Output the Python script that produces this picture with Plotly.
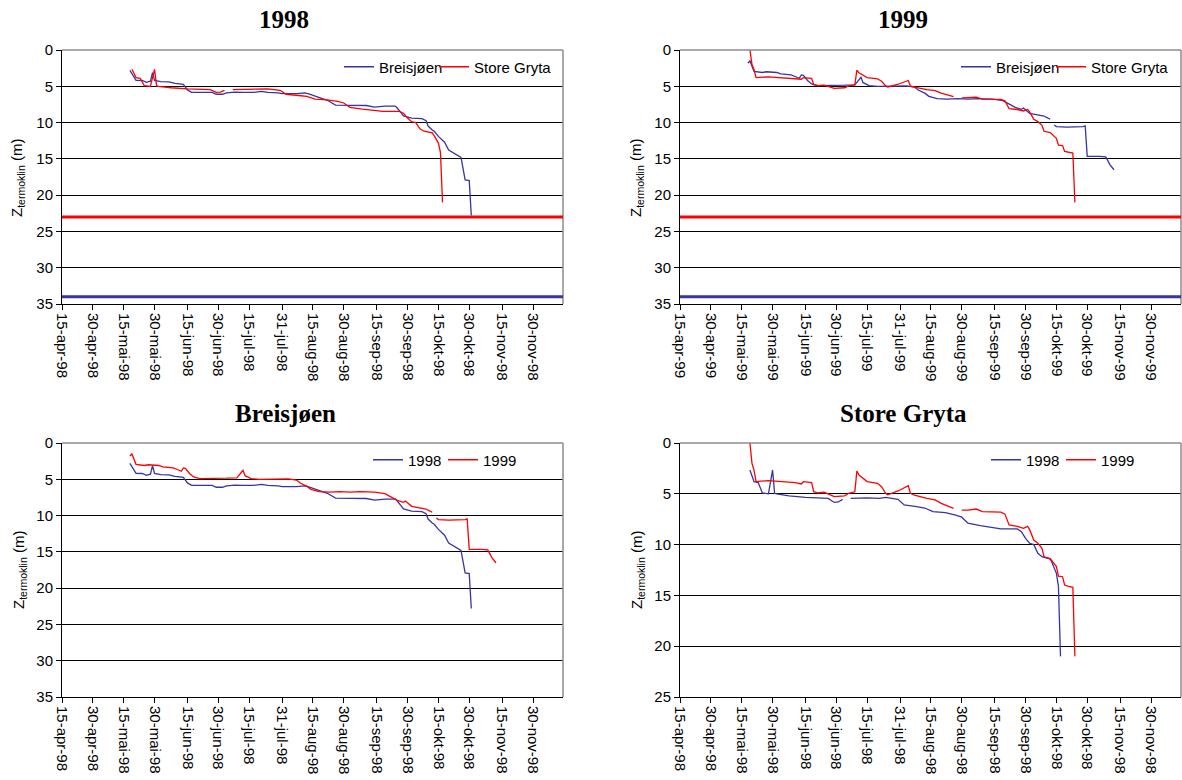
import plotly.graph_objects as go

# ---------------- data (month-day, thermocline depth in m) ----------------
B98_MD = ["05-18", "05-21", "05-24", "05-26", "05-28", "05-29", "05-30", "06-02", "06-06", "06-09",
          "06-13", "06-15", "06-17", "06-22", "06-27", "06-29", "07-02", "07-04", "07-08", "07-12",
          "07-17", "07-21", "07-24", "07-29", "07-31", "08-07", "08-11", "08-13", "08-18", "08-22",
          "08-26", "09-02", "09-10", "09-14", "09-17", "09-19", "09-24", "09-25", "09-27", "09-28",
          "10-02", "10-07", "10-09", "10-10", "10-12", "10-13", "10-15", "10-17", "10-18", "10-20",
          "10-22", "10-24", "10-26", "10-28", "10-30", "10-31"]
B98_Z = [2.8, 4.18, 4.2, 4.45, 4.3, 3.13, 4.2, 4.36, 4.4, 4.6,
         4.73, 5.5, 5.83, 5.83, 5.83, 6.1, 6.1, 5.9, 5.8, 5.85,
         5.85, 5.7, 5.85, 5.9, 6.0, 6.0, 5.9, 6.05, 6.56, 6.93,
         7.6, 7.65, 7.65, 7.88, 7.8, 7.73, 7.73, 8.0, 8.7, 9.07,
         9.4, 9.46, 9.74, 10.48, 11.03, 11.2, 11.9, 12.47, 12.7, 13.8,
         14.1, 14.5, 14.8, 17.9, 18.0, 22.8]

B99_MD = ["05-18", "05-19", "05-21", "05-25", "05-27", "06-01", "06-03", "06-08", "06-10", "06-12",
          "06-13", "06-14", "06-16", "06-18", "06-21", "06-30", "07-04", "07-09", "07-10", "07-12",
          "07-13", "07-16", "07-20", "07-25", "07-29", "08-03", "08-07", "08-09", "08-12", "08-14",
          "08-18", "08-23", "08-28", "09-02", "09-07", "09-10", "09-14", "09-19", "09-22", "09-25",
          "09-28", "09-29", "10-02", "10-05", "10-09", "10-10", "10-12", "10-13", "10-14", "10-15",
          "10-20", "10-23", "10-28", "10-29", "10-30", "11-05", "11-08", "11-10", "11-12"]
B99_Z = [1.8, 1.5, 2.94, 3.1, 3.0, 3.1, 3.3, 3.44, 3.65, 3.9,
         3.44, 3.5, 4.2, 4.67, 4.9, 4.92, 4.85, 4.8, 4.5, 3.76,
         4.5, 4.9, 5.0, 5.0, 4.93, 4.93, 5.1, 5.55, 5.95, 6.38,
         6.7, 6.76, 6.7, 6.76, 6.7, 6.76, 6.76, 6.97, 7.43, 7.9,
         8.17, 8.0, 8.72, 8.86, 9.1, 9.26, 9.54, None, 10.32, 10.55,
         10.64, 10.64, 10.55, 10.45, 14.65, 14.65, 14.74, 15.8, 16.5]

SG98_MD = ["05-19", "05-21", "05-23", "05-25", "05-28", "05-30", "05-31", "06-01", "06-07", "06-15",
           "06-26", "06-27", "06-29", "07-01", "07-03", "07-05", "07-07", "07-15", "07-21", "07-24",
           "07-30", "08-02", "08-08", "08-12", "08-16", "08-22", "08-27", "08-30", "08-31", "09-02",
           "09-08", "09-15", "09-18", "09-26", "09-28", "09-30", "10-02", "10-04", "10-06", "10-08",
           "10-12", "10-13", "10-15", "10-16", "10-17"]
SG98_Z = [2.66, 3.8, 3.9, 4.9, 5.0, 2.66, 4.95, 5.0, 5.2, 5.35,
          5.45, 5.6, 5.85, 5.8, 5.55, None, 5.45, 5.4, 5.45, 5.35,
          5.55, 6.1, 6.27, 6.4, 6.76, 6.86, 7.09, 7.3, 7.5, 7.9,
          8.14, 8.33, 8.46, 8.46, 8.72, 9.38, 9.87, 10.0, 10.86, 11.19,
          11.42, 11.84, 12.83, 14.1, 21.0]

SG99_MD = ["05-19", "05-20", "05-21", "05-22", "05-28", "06-03", "06-10", "06-13", "06-14", "06-18",
           "06-19", "06-21", "06-24", "06-26", "06-29", "07-04", "07-06", "07-09", "07-10", "07-11",
           "07-15", "07-20", "07-22", "07-24", "07-25", "07-30", "08-03", "08-04", "08-05", "08-07",
           "08-13", "08-17", "08-20", "08-26", "08-28", "08-30", "09-02", "09-06", "09-09", "09-18",
           "09-20", "09-22", "09-26", "09-29", "10-01", "10-02", "10-04", "10-06", "10-08", "10-09",
           "10-12", "10-15", "10-16", "10-18", "10-19", "10-21", "10-23", "10-24"]
SG99_Z = [0.0, 2.0, 2.7, 3.8, 3.7, 3.8, 3.9, 4.03, 3.8, 3.9,
          4.79, 4.9, 4.85, 5.0, 5.28, 5.2, 4.95, 4.8, 2.76, 3.15,
          3.8, 3.97, 4.3, 4.95, 5.1, 4.72, 4.3, 4.2, 4.95, 5.12,
          5.45, 5.6, 5.94, 6.43, None, 6.6, 6.6, 6.5, 6.76, 6.8,
          7.0, 8.07, 8.2, 8.4, 8.2, 8.53, 9.55, 9.87, 10.37, 11.2,
          11.38, 12.17, 13.1, 13.16, 13.98, 14.1, 14.2, 21.0]

# reference depths (horizontal lines in the yearly panels)
REF_STORE_GRYTA = 23
REF_BREISJOEN = 34

TICK_MD = ["04-15", "04-30", "05-15", "05-30", "06-15", "06-30", "07-15", "07-31",
           "08-15", "08-30", "09-15", "09-30", "10-15", "10-30", "11-15", "11-30"]
TICK_LABELS = ["15-apr", "30-apr", "15-mai", "30-mai", "15-jun", "30-jun", "15-jul", "31-jul",
               "15-aug", "30-aug", "15-sep", "30-sep", "15-okt", "30-okt", "15-nov", "30-nov"]

TITLES = ["1998", "1999", "Breisjøen", "Store Gryta"]

# ---------------- styling ----------------
W, H = 1182, 780
OFF = 0  # page body margin is removed below, so figure pixels = window pixels
BLUE = "#3535A6"
RED = "#FF0000"
SANS = "Liberation Sans, Arial, sans-serif"
SERIF = "Liberation Serif, Times New Roman, serif"
FS = 15


def px_x(p):
    return (p - OFF) / W


def px_y(p):
    return 1 - (p - OFF) / H


def d(md, year):
    return [f"{year}-{m}" for m in md]


fig = go.Figure()

panels = [
    # (axis suffix, x0, x1, ytop, ybot, tick year, ymax)  -- window pixels
    ("", 62, 563, 50, 304, "98", 35),
    ("2", 680, 1181, 50, 304, "99", 35),
    ("3", 62, 563, 443, 697, "98", 35),
    ("4", 680, 1181, 443, 697, "98", 25),
]

series = [
    [("Breisjøen", d(B98_MD, 1998), B98_Z, BLUE), ("Store Gryta", d(SG98_MD, 1998), SG98_Z, RED)],
    [("Breisjøen", d(B99_MD, 1999), B99_Z, BLUE), ("Store Gryta", d(SG99_MD, 1999), SG99_Z, RED)],
    [("1998", d(B98_MD, 1998), B98_Z, BLUE), ("1999", d(B99_MD, 1998), B99_Z, RED)],
    [("1998", d(SG98_MD, 1998), SG98_Z, BLUE), ("1999", d(SG99_MD, 1998), SG99_Z, RED)],
]
# width reserved for the first legend entry's text (tighter than plotly's default spacing)
first_entry_w = [50, 50, 30, 30]

legend_pos = [(557, 67), (1174, 67), (522, 460), (1140, 460)]
title_pos = [(284, 19), (903, 19), (285, 413), (903, 413)]
ytitle_pos = [(18, 178), (637, 178), (19, 570), (637, 570)]

annotations = []
shapes = []
layout_axes = {}

for i, (suf, x0, x1, yt, yb, yr, ymax) in enumerate(panels):
    xa = "x" + suf
    ya = "y" + suf
    leg = "legend" if i == 0 else f"legend{i + 1}"
    full_year = 1900 + int(yr)
    for j, (name, xs, zs, col) in enumerate(series[i]):
        extra = dict(legendwidth=first_entry_w[i]) if j == 0 else {}
        fig.add_trace(go.Scatter(
            x=xs, y=zs, mode="lines", name=name, xaxis=xa, yaxis=ya,
            line=dict(color=col, width=1.3), connectgaps=False, legend=leg, **extra,
        ))
    layout_axes["xaxis" + suf] = dict(
        domain=[px_x(x0), min(px_x(x1), 1.0)], anchor=ya, type="date", automargin=False,
        range=[f"{full_year}-04-15", f"{full_year}-12-14 14:00"],
        tickvals=d(TICK_MD, full_year), ticktext=[t + "-" + yr for t in TICK_LABELS],
        tickangle=90, ticks="outside", ticklen=5, tickcolor="black",
        showline=True, linecolor="black", linewidth=1, showgrid=False, zeroline=False,
        tickfont=dict(family=SANS, size=FS, color="black"),
    )
    layout_axes["yaxis" + suf] = dict(
        domain=[px_y(yb), px_y(yt)], anchor=xa, range=[ymax, 0], automargin=False,
        tickvals=list(range(0, ymax + 1, 5)), ticks="outside", ticklen=5, tickcolor="black",
        showline=True, linecolor="black", linewidth=1,
        showgrid=True, gridcolor="black", gridwidth=1, zeroline=False,
        tickfont=dict(family=SANS, size=FS, color="black"),
    )
    shapes.append(dict(type="line", xref=xa + " domain", yref=ya + " domain", x0=0, x1=1, y0=1, y1=1,
                       line=dict(color="#8C8C8C", width=1.5), layer="above"))
    shapes.append(dict(type="line", xref=xa + " domain", yref=ya + " domain", x0=1, x1=1, y0=0, y1=1,
                       line=dict(color="#8C8C8C", width=1.5), layer="above"))
    lx, ly = legend_pos[i]
    layout_axes[leg] = dict(
        orientation="h", x=px_x(lx), y=px_y(ly), xanchor="right", yanchor="middle",
        bgcolor="rgba(0,0,0,0)", font=dict(family=SANS, size=FS, color="black"),
        itemwidth=30, tracegroupgap=0,
    )
    tx, ty = title_pos[i]
    annotations.append(dict(text=f"<b>{TITLES[i]}</b>", x=px_x(tx), y=px_y(ty), xref="paper", yref="paper",
                            showarrow=False, xanchor="center", yanchor="middle",
                            font=dict(family=SERIF, size=25, color="black")))
    ax_, ay_ = ytitle_pos[i]
    annotations.append(dict(text="Z<sub>termoklin</sub> (m)", x=px_x(ax_), y=px_y(ay_), xref="paper",
                            yref="paper", showarrow=False, textangle=-90, xanchor="center",
                            yanchor="middle", font=dict(family=SANS, size=FS, color="black")))

for suf in ["", "2"]:
    for depth, col in [(REF_STORE_GRYTA, RED), (REF_BREISJOEN, BLUE)]:
        shapes.append(dict(type="line", xref="x" + suf + " domain", yref="y" + suf,
                           x0=0, x1=1, y0=depth, y1=depth, line=dict(color=col, width=3), layer="above"))

fig.update_layout(
    template="none",
    width=W, height=H, margin=dict(l=0, r=0, t=0, b=0, autoexpand=False),
    paper_bgcolor="white", plot_bgcolor="white", showlegend=True,
    annotations=annotations, shapes=shapes, **layout_axes,
)

fig.write_html("out.html", config={"displayModeBar": False},
               post_script="document.body.style.margin='0px';")
